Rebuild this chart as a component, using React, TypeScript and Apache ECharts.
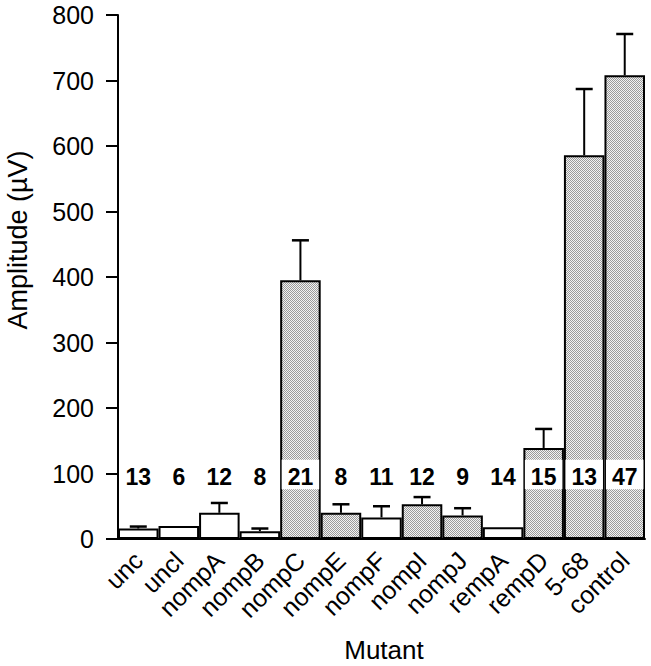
import React, { useEffect, useRef } from "react";
import * as echarts from "echarts";

const categories = ["unc", "uncl", "nompA", "nompB", "nompC", "nompE", "nompF", "nompI", "nompJ", "rempA", "rempD", "5-68", "control"];
const means = [16, 20, 40, 12, 395, 40, 33, 53, 36, 18, 139, 586, 708];
const errors = [3, 0, 15, 4, 61, 13, 17, 11, 11, 0, 29, 101, 63];
const counts = [13, 6, 12, 8, 21, 8, 11, 12, 9, 14, 15, 13, 47];
const stippled = [false, false, false, false, true, true, false, true, true, false, true, true, true];
const yTicks = [0, 100, 200, 300, 400, 500, 600, 700, 800];

const LABEL_VALUE = 95;
const BAND_LOW = 76;
const BAND_HIGH = 121;
const FONT = "'Liberation Sans', Arial, Helvetica, sans-serif";

function makePattern(): string {
  const c = document.createElement("canvas");
  c.width = 2;
  c.height = 2;
  const ctx = c.getContext("2d");
  if (!ctx) return "#c4c4c4";
  ctx.fillStyle = "#f2f2f2";
  ctx.fillRect(0, 0, 2, 2);
  ctx.fillStyle = "#9a9a9a";
  ctx.fillRect(0, 0, 1, 1);
  ctx.fillRect(1, 1, 1, 1);
  return c.toDataURL();
}

export default function App() {
  const ref = useRef<HTMLDivElement>(null);
  useEffect(() => {
    if (!ref.current) return;
    const chart = echarts.init(ref.current, undefined, { renderer: "svg" });
    const pat = makePattern();
    const grayFill: any = pat.startsWith("data:") ? { image: pat, repeat: "repeat" } : pat;

    const barData = means.map((m, i) => ({
      value: m,
      itemStyle: { color: stippled[i] ? grayFill : "#ffffff" },
    }));

    chart.setOption({
      animation: false,
      backgroundColor: "#ffffff",
      textStyle: { fontFamily: FONT },
      grid: { left: 118, right: 6, top: 15, bottom: 127, containLabel: false },
      graphic: [
        {
          type: "text",
          x: 18,
          y: 240,
          rotation: Math.PI / 2,
          style: { text: "Amplitude (µV)", fontSize: 27, fontFamily: FONT, fill: "#000", align: "center", verticalAlign: "middle" },
        },
        {
          type: "text",
          x: 384,
          y: 650,
          style: { text: "Mutant", fontSize: 26, fontFamily: FONT, fill: "#000", align: "center", verticalAlign: "middle" },
        },
      ],
      xAxis: {
        type: "category",
        data: categories,
        axisLine: { lineStyle: { color: "#000", width: 2 } },
        axisTick: { alignWithLabel: true, length: 12, lineStyle: { color: "#000", width: 2 } },
        axisLabel: { rotate: 45, fontSize: 25, color: "#000", margin: 17, interval: 0, fontFamily: FONT },
      },
      yAxis: {
        type: "value",
        min: yTicks[0],
        max: yTicks[yTicks.length - 1],
        interval: 100,
        axisLine: { show: true, lineStyle: { color: "#000", width: 2 } },
        axisTick: { show: true, length: 12, lineStyle: { color: "#000", width: 2 } },
        axisLabel: { fontSize: 25, color: "#000", margin: 24, fontFamily: FONT },
        splitLine: { show: false },
      },
      series: [
        {
          type: "bar",
          data: barData,
          barCategoryGap: "0%",
          itemStyle: { borderColor: "#000", borderWidth: 2 },
          z: 2,
        },
        {
          type: "custom",
          z: 3,
          data: means.map((m, i) => [i, m, errors[i]]),
          renderItem: (params: any, api: any) => {
            const i = api.value(0);
            const m = api.value(1);
            const e = api.value(2);
            if (!e) return { type: "group", children: [] };
            const p0 = api.coord([i, m]);
            const p1 = api.coord([i, m + e]);
            const hw = 8.5;
            return {
              type: "group",
              children: [
                { type: "line", shape: { x1: p0[0], y1: p0[1], x2: p1[0], y2: p1[1] }, style: { stroke: "#000", lineWidth: 2 } },
                { type: "line", shape: { x1: p1[0] - hw, y1: p1[1], x2: p1[0] + hw, y2: p1[1] }, style: { stroke: "#000", lineWidth: 2.5 } },
              ],
            };
          },
        },
        {
          type: "custom",
          z: 4,
          data: counts.map((c, i) => [i, c, means[i], stippled[i] ? 1 : 0]),
          renderItem: (params: any, api: any) => {
            const i = api.value(0);
            const c = api.value(1);
            const m = api.value(2);
            const s = api.value(3);
            const bw = api.size([1, 0])[0];
            const pc = api.coord([i, LABEL_VALUE]);
            const children: any[] = [];
            if (s && m > BAND_HIGH) {
              const top = api.coord([i, BAND_HIGH]);
              const bot = api.coord([i, BAND_LOW]);
              children.push({
                type: "rect",
                shape: { x: pc[0] - bw / 2 + 1.5, y: top[1], width: bw - 3, height: bot[1] - top[1] },
                style: { fill: "#ffffff" },
              });
            }
            children.push({
              type: "text",
              x: pc[0],
              y: pc[1],
              style: {
                text: String(c),
                fontSize: 23,
                fontWeight: "bold",
                fontFamily: FONT,
                fill: "#000",
                align: "center",
                verticalAlign: "middle",
              },
            });
            return { type: "group", children };
          },
        },
      ],
    });
    return () => chart.dispose();
  }, []);
  return <div ref={ref} style={{ position: "absolute", left: 0, top: 0, width: 651, height: 666 }} />;
}
